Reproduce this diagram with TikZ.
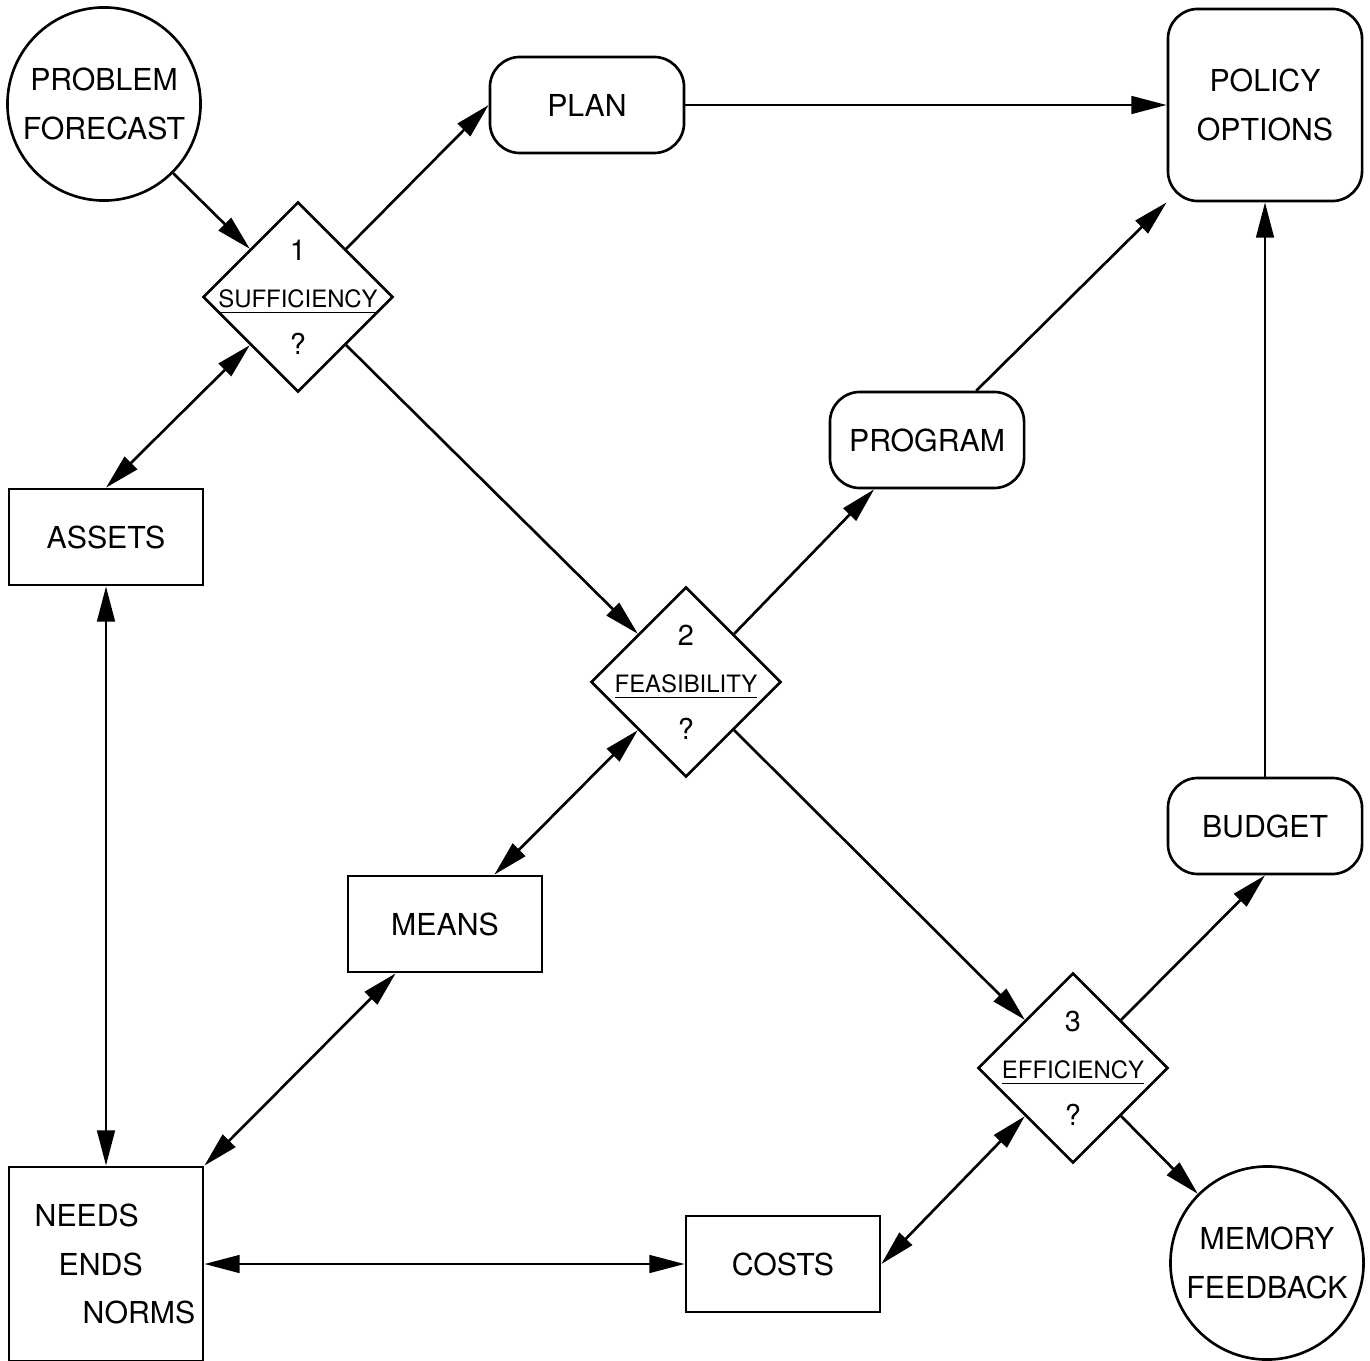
\documentclass[tikz,border=0pt]{standalone}
\usepackage{fontspec}
\setmainfont{TeX Gyre Heros}
\usetikzlibrary{arrows.meta,shapes.geometric}

\begin{document}
\begin{tikzpicture}[x=0.01cm,y=-0.01cm,
    every node/.style={font=\fontsize{8.6}{13.7}\selectfont,align=center,line width=0.75pt},
    box/.style={draw,minimum width=1.94cm,minimum height=0.96cm,inner sep=0pt},
    rbox/.style={box,rounded corners=0.3cm},
    ball/.style={draw,circle,minimum size=1.93cm,inner sep=0pt},
    dia/.style={draw,diamond,minimum width=1.9cm,minimum height=1.9cm,inner sep=0pt},
    dtext/.style={font=\fontsize{6.8}{13.4}\selectfont},
    arr/.style={line width=0.75pt,-{Triangle[length=10pt,width=5pt]}},
    darr/.style={line width=0.75pt,{Triangle[length=10pt,width=5pt]}-{Triangle[length=10pt,width=5pt]}}]
      \useasboundingbox (0,0) rectangle (1370,1361);
      \def\big#1{{\fontsize{8.2}{13.4}\selectfont#1}}
      % outer nodes
      \node[ball] (pf) at (104,104) {PROBLEM\\FORECAST};
      \node[rbox] (plan) at (587,105) {PLAN};
      \node[rbox,minimum height=1.92cm] (po) at (1265,105) {POLICY\\OPTIONS};
      \node[rbox] (program) at (927,440) {PROGRAM};
      \node[rbox] (budget) at (1265,826) {BUDGET};
      \node[ball] (mf) at (1267,1263) {MEMORY\\FEEDBACK};
      \node[box] (assets) at (106,537) {ASSETS};
      \node[box] (means) at (445,924) {MEANS};
      \node[box] (costs) at (783,1264) {COSTS};
      \node[box,minimum height=1.94cm,align=left] (needs) at (106,1264)
        {\hspace*{0.18cm}NEEDS\\\hspace*{0.42cm}ENDS\\\hspace*{0.66cm}NORMS};
      % decision diamonds
      \foreach \n/\x/\y/\lab in {1/298/297/SUFFICIENCY,2/686/682/FEASIBILITY,3/1073/1068/EFFICIENCY}{
        \node[dia] (d\n) at (\x,\y) {};
        \node[dtext] (t\n) at (d\n) {\big{\n}\\\underline{\lab}\\\big{?}};
      }
      % connectors
      \foreach \a/\b in {pf.-45/d1.north west,d1.north east/plan.west,plan.east/po.west,
          d1.south east/d2.north west,d2.north east/program.223,program.45/po.south west,
          d2.south east/d3.north west,d3.north east/budget.south,budget.north/po.south,
          d3.south east/mf.135}
        \draw[arr] (\a) -- (\b);
      \foreach \a/\b in {d1.south west/assets.north,assets.south/needs.north,
          d2.south west/means.45,means.225/needs.north east,needs.east/costs.west,
          costs.east/d3.south west}
        \draw[darr] (\a) -- (\b);
\end{tikzpicture}
\end{document}
